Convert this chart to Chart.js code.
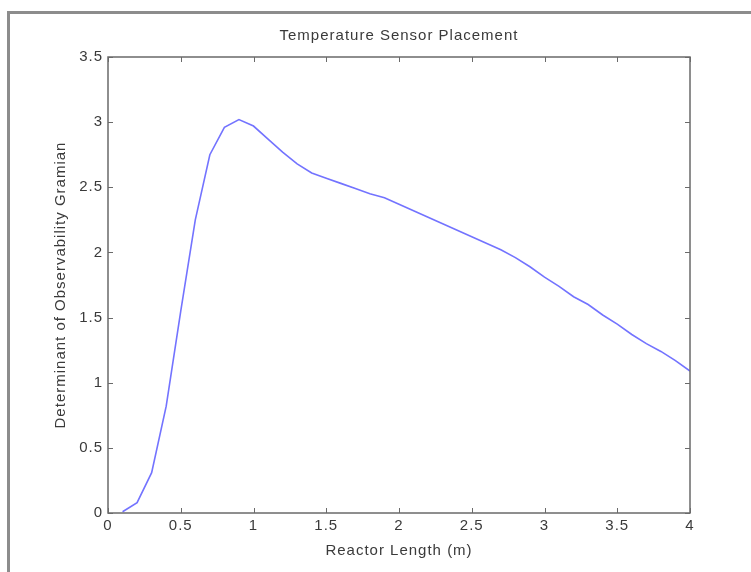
<!DOCTYPE html>
<html>
<head>
<meta charset="utf-8">
<title>Temperature Sensor Placement</title>
<script src="https://cdn.jsdelivr.net/npm/chart.js@4/dist/chart.umd.min.js"></script>
<style>
  html, body { margin: 0; padding: 0; background: #fff; overflow: hidden; }
  #wrap { position: relative; width: 751px; height: 572px; }
  #frame {
    position: absolute; left: 7px; top: 11px; width: 800px; height: 700px;
    border-left: 3px solid #8c8c8c; border-top: 3px solid #8c8c8c;
  }
  canvas { position: absolute; left: 0; top: 0; }
</style>
</head>
<body>
<div id="wrap">
  <div id="frame"></div>
  <canvas id="sensor-chart" width="751" height="572"></canvas>
</div>
<script>
'use strict';

// sensor position along the reactor (m)
var reactorLength = [0.1, 0.2, 0.3, 0.4, 0.5, 0.6, 0.7, 0.8, 0.9, 1.0,
                     1.1, 1.2, 1.3, 1.4, 1.5, 1.6, 1.7, 1.8, 1.9, 2.0,
                     2.1, 2.2, 2.3, 2.4, 2.5, 2.6, 2.7, 2.8, 2.9, 3.0,
                     3.1, 3.2, 3.3, 3.4, 3.5, 3.6, 3.7, 3.8, 3.9, 4.0];

// determinant of the observability gramian at each position
var gramianDet = [0.01, 0.08, 0.31, 0.82, 1.55, 2.25, 2.75, 2.96, 3.02, 2.97,
                  2.87, 2.77, 2.68, 2.61, 2.57, 2.53, 2.49, 2.45, 2.42, 2.37,
                  2.32, 2.27, 2.22, 2.17, 2.12, 2.07, 2.02, 1.96, 1.89, 1.81,
                  1.74, 1.66, 1.60, 1.52, 1.45, 1.37, 1.30, 1.24, 1.17, 1.09];

var xTicks = [0, 0.5, 1, 1.5, 2, 2.5, 3, 3.5, 4];
var yTicks = [0, 0.5, 1, 1.5, 2, 2.5, 3, 3.5];

var points = reactorLength.map(function (x, i) {
    return { x: x, y: gramianDet[i] };
});

var axisColor = '#6a6a6a';
var textColor = '#3a3a3a';
var fontFamily = '"Liberation Sans", Arial, Helvetica, sans-serif';

// loose letter spacing like the old figure export; set before layout so text is measured with it
var spacedText = {
    id: 'spacedText',
    beforeUpdate: function (chart) { chart.ctx.letterSpacing = '1px'; },
    beforeDraw: function (chart) { chart.ctx.letterSpacing = '1px'; }
};

// box around the axes with short ticks pointing inward on all four sides
var boxAxes = {
    id: 'boxAxes',
    afterDatasetsDraw: function (chart) {
        var ctx = chart.ctx;
        var area = chart.chartArea;
        var xs = chart.scales.x;
        var ys = chart.scales.y;
        var len = 5;
        ctx.save();
        ctx.strokeStyle = axisColor;
        ctx.lineWidth = 1.5;
        ctx.strokeRect(area.left, area.top, area.right - area.left, area.bottom - area.top);
        ctx.lineWidth = 1;
        ctx.beginPath();
        xTicks.forEach(function (v) {
            var px = Math.round(xs.getPixelForValue(v)) + 0.5;
            ctx.moveTo(px, area.bottom);
            ctx.lineTo(px, area.bottom - len);
            ctx.moveTo(px, area.top);
            ctx.lineTo(px, area.top + len);
        });
        yTicks.forEach(function (v) {
            var py = Math.round(ys.getPixelForValue(v)) + 0.5;
            ctx.moveTo(area.left, py);
            ctx.lineTo(area.left + len, py);
            ctx.moveTo(area.right, py);
            ctx.lineTo(area.right - len, py);
        });
        ctx.stroke();
        ctx.restore();
    }
};

new Chart(document.getElementById('sensor-chart'), {
    type: 'line',
    data: {
        datasets: [{
            data: points,
            borderColor: 'rgb(115, 115, 255)',
            borderWidth: 1.6,
            pointRadius: 0,
            tension: 0,
            fill: false
        }]
    },
    options: {
        responsive: false,
        animation: false,
        events: [],
        layout: { padding: { left: 52, right: 61, top: 0, bottom: 0 } },
        plugins: {
            legend: { display: false },
            tooltip: { enabled: false },
            title: {
                display: true,
                fullSize: false,
                text: 'Temperature Sensor Placement',
                color: textColor,
                font: { family: fontFamily, size: 15, weight: 'normal' },
                padding: { top: 27, bottom: 12 }
            }
        },
        scales: {
            x: {
                type: 'linear',
                min: 0,
                max: 4,
                afterBuildTicks: function (scale) {
                    scale.ticks = xTicks.map(function (v) { return { value: v }; });
                },
                afterFit: function (scale) { scale.height = 59; },
                grid: { display: false, drawTicks: false },
                border: { display: false },
                ticks: {
                    color: textColor,
                    font: { family: fontFamily, size: 15 },
                    padding: 4,
                    maxRotation: 0,
                    callback: function (v) { return String(v); }
                },
                title: {
                    display: true,
                    text: 'Reactor Length (m)',
                    color: textColor,
                    font: { family: fontFamily, size: 15 },
                    padding: { top: 0, bottom: 12 }
                }
            },
            y: {
                type: 'linear',
                min: 0,
                max: 3.5,
                afterBuildTicks: function (scale) {
                    scale.ticks = yTicks.map(function (v) { return { value: v }; });
                },
                afterFit: function (scale) { scale.width = 56; },
                grid: { display: false, drawTicks: false },
                border: { display: false },
                ticks: {
                    color: textColor,
                    font: { family: fontFamily, size: 15 },
                    padding: 5,
                    callback: function (v) { return String(v); }
                },
                title: {
                    display: true,
                    text: 'Determinant of Observability Gramian',
                    color: textColor,
                    font: { family: fontFamily, size: 15 },
                    padding: { top: 0, bottom: 0 }
                }
            }
        }
    },
    plugins: [spacedText, boxAxes]
});
</script>
</body>
</html>
